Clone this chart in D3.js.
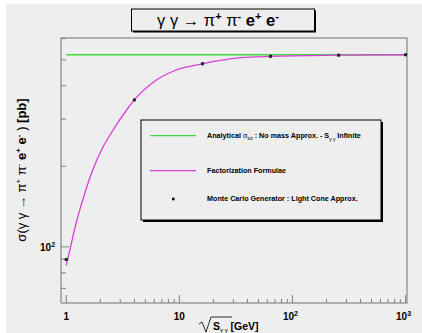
<!DOCTYPE html>
<html><head><meta charset="utf-8">
<script src="https://cdn.jsdelivr.net/npm/d3@7"></script>
<style>
html,body{margin:0;padding:0;background:#fff;}
svg{display:block;}
text{font-family:"Liberation Sans",Arial,sans-serif;}
</style></head>
<body>
<script>
// ---- data ----
const curveX = [1, 1.085, 1.2, 1.42, 1.74, 2.07, 2.62, 3.44, 4, 5.92, 8.9, 16, 23.1, 34.7, 64, 256, 1000];
const curveY = [85.3, 99, 119, 153, 197, 232, 275, 326, 354, 413, 454, 483, 497, 509, 515, 520, 522];
const mcX = [1, 4, 16, 64, 256, 1000];
const mcY = [89.7, 354, 483, 515, 520, 522];
const analyticX = [1, 1000];
const analyticY = [522, 522];
const xTickVals = [1, 10, 100, 1000];
const xTickLabels = ["1", "10", "10", "10"];
const xTickExps = ["", "", "2", "3"];
const yTickVals = [100];
const legendLabels = ["Analytical", "Factorization Formulae", "Monte Carlo Generator : Light Cone Approx."];

const W = 422, H = 333;
const svg = d3.select("body").append("svg").attr("width", W).attr("height", H);
svg.append("rect").attr("x", 6).attr("y", 4).attr("width", W - 6).attr("height", H - 4).attr("fill", "#eeeeee");

const L = 61, R = 407, T = 38, B = 303;
const x = d3.scaleLog().domain([0.898, 1030]).range([L, R]);
const y = d3.scaleLog().domain([61.7, 603]).range([B, T]);

const green = "#3fd83f", magenta = "#d83fd8";

// frame
svg.append("rect").attr("x", L).attr("y", T).attr("width", R - L).attr("height", B - T)
  .attr("fill", "none").attr("stroke", "#707070").attr("stroke-width", 1);
svg.append("line").attr("x1", L).attr("x2", L).attr("y1", T).attr("y2", B)
  .attr("stroke", "#b0b0b0").attr("stroke-width", 2);

// x ticks
const xMinor = [];
for (let d = 1; d <= 100; d *= 10) for (let k = 2; k <= 9; k++) xMinor.push(d * k);
svg.append("g").selectAll("line").data(xMinor).join("line")
  .attr("x1", d => x(d)).attr("x2", d => x(d)).attr("y1", B).attr("y2", B - 4)
  .attr("stroke", "#808080");
svg.append("g").selectAll("line").data(xTickVals).join("line")
  .attr("x1", d => x(d)).attr("x2", d => x(d)).attr("y1", B).attr("y2", B - 8)
  .attr("stroke", "#808080");
const xl = svg.append("g").selectAll("text").data(xTickVals).join("text")
  .attr("x", (d, i) => x(d) + (xTickExps[i] ? -2 : 0)).attr("y", 320)
  .attr("text-anchor", "middle").attr("font-size", 10).attr("font-weight", "bold");
xl.append("tspan").text((d, i) => xTickLabels[i]);
xl.append("tspan").attr("dy", -4).attr("font-size", 7).text((d, i) => xTickExps[i]);

// y ticks
const yMinor = [70, 80, 90, 200, 300, 400, 500, 600];
svg.append("g").selectAll("line").data(yMinor).join("line")
  .attr("x1", L).attr("x2", L + 5).attr("y1", d => y(d)).attr("y2", d => y(d))
  .attr("stroke", "#808080");
svg.append("g").selectAll("line").data(yTickVals).join("line")
  .attr("x1", L).attr("x2", L + 8).attr("y1", d => y(d)).attr("y2", d => y(d))
  .attr("stroke", "#808080");
const yl = svg.append("g").selectAll("text").data(yTickVals).join("text")
  .attr("x", 40).attr("y", d => y(d) + 4)
  .attr("font-size", 10).attr("font-weight", "bold");
yl.append("tspan").text("10");
yl.append("tspan").attr("dy", -4).attr("font-size", 7).text("2");

// analytical line
const line = d3.line().x(d => x(d[0])).y(d => y(d[1]));
svg.append("path").datum(analyticX.map((v, i) => [v, analyticY[i]]))
  .attr("d", line).attr("fill", "none").attr("stroke", green).attr("stroke-width", 1.3);
// factorization curve
svg.append("path").datum(curveX.map((v, i) => [v, curveY[i]]))
  .attr("d", d3.line().curve(d3.curveMonotoneX).x(d => x(d[0])).y(d => y(d[1])))
  .attr("fill", "none").attr("stroke", magenta).attr("stroke-width", 1.3);
// MC points
svg.append("g").selectAll("rect").data(mcX.map((v, i) => [v, mcY[i]])).join("rect")
  .attr("x", d => x(d[0]) - 1.5).attr("y", d => y(d[1]) - 1.5).attr("width", 3).attr("height", 3)
  .attr("fill", "#222");

// legend
const lgX = 141, lgY = 120, lgW = 240, lgH = 100;
svg.append("rect").attr("x", lgX + 2).attr("y", lgY + 2).attr("width", lgW).attr("height", lgH).attr("fill", "#000");
svg.append("rect").attr("x", lgX).attr("y", lgY).attr("width", lgW).attr("height", lgH)
  .attr("fill", "#eeeeee").attr("stroke", "#000").attr("stroke-width", 1);
const rows = [135.7, 170.7, 199];
svg.append("line").attr("x1", 150).attr("x2", 196).attr("y1", rows[0]).attr("y2", rows[0]).attr("stroke", green).attr("stroke-width", 1.3);
svg.append("line").attr("x1", 150).attr("x2", 196).attr("y1", rows[1]).attr("y2", rows[1]).attr("stroke", magenta).attr("stroke-width", 1.3);
svg.append("rect").attr("x", 172).attr("y", rows[2] - 1.3).attr("width", 2.6).attr("height", 2.6).attr("fill", "#000");
const fs = 7.2;
const lt0 = svg.append("text").attr("x", 207).attr("y", rows[0] + 2.4).attr("font-size", fs).attr("font-weight", "bold");
lt0.append("tspan").text(legendLabels[0] + " ");
lt0.append("tspan").attr("font-weight", "normal").text("σ");
lt0.append("tspan").attr("dy", 1.5).attr("font-size", 4.8).attr("font-weight", "normal").text("tot");
lt0.append("tspan").attr("dy", -1.5).text(" : No mass Approx. -  S");
lt0.append("tspan").attr("dy", 2.5).attr("font-size", 4.8).attr("font-weight", "normal").text("γ γ");
lt0.append("tspan").attr("dy", -2.5).text("  Infinite");
svg.append("text").attr("x", 207).attr("y", rows[1] + 2.4).attr("font-size", fs).attr("font-weight", "bold").text(legendLabels[1]);
svg.append("text").attr("x", 207).attr("y", rows[2] + 2.4).attr("font-size", fs).attr("font-weight", "bold").text(legendLabels[2]);

// title box
svg.append("rect").attr("x", 133).attr("y", 10.5).attr("width", 183).attr("height", 22).attr("fill", "#000");
svg.append("rect").attr("x", 131.5).attr("y", 9).attr("width", 183).attr("height", 22)
  .attr("fill", "#eeeeee").attr("stroke", "#000").attr("stroke-width", 1);
const tt = svg.append("text").attr("x", 218).attr("y", 26).attr("text-anchor", "middle").attr("font-size", 16.5);
tt.append("tspan").text("γ γ → π");
tt.append("tspan").attr("dy", -6).attr("font-size", 11).attr("font-weight", "bold").text("+");
tt.append("tspan").attr("dy", 6).text("  π");
tt.append("tspan").attr("dy", -6).attr("font-size", 11).attr("font-weight", "bold").text("-");
tt.append("tspan").attr("dy", 6).attr("font-weight", "bold").text(" e");
tt.append("tspan").attr("dy", -6).attr("font-size", 11).attr("font-weight", "bold").text("+");
tt.append("tspan").attr("dy", 6).attr("font-weight", "bold").text("  e");
tt.append("tspan").attr("dy", -6).attr("font-size", 11).attr("font-weight", "bold").text("-");

// y axis title
const yt = svg.append("text").attr("transform", "translate(26,170) rotate(-90)")
  .attr("text-anchor", "middle").attr("font-size", 13);
yt.append("tspan").text("σ(γ γ → π");
yt.append("tspan").attr("dy", -5).attr("font-size", 8).text("+");
yt.append("tspan").attr("dy", 5).text(" π");
yt.append("tspan").attr("dy", -5).attr("font-size", 8).text("-");
yt.append("tspan").attr("dy", 5).attr("font-weight", "bold").text(" e");
yt.append("tspan").attr("dy", -5).attr("font-size", 8).attr("font-weight", "bold").text("+");
yt.append("tspan").attr("dy", 5).attr("font-weight", "bold").text(" e");
yt.append("tspan").attr("dy", -5).attr("font-size", 8).attr("font-weight", "bold").text("-");
yt.append("tspan").attr("dy", 5).text(" )  ");
yt.append("tspan").attr("font-weight", "bold").text("[pb]");

// x axis title
svg.append("path").attr("d", "M199,324 L202,322 L206,332 L211,317 L232,317")
  .attr("fill", "none").attr("stroke", "#000").attr("stroke-width", 0.8);
const xt = svg.append("text").attr("x", 213).attr("y", 330).attr("font-size", 10.5).attr("font-weight", "bold");
xt.append("tspan").text("S");
xt.append("tspan").attr("dy", 2).attr("font-size", 6).attr("font-weight", "normal").text("γ γ");
xt.append("tspan").attr("dy", -2).text(" [GeV]");
</script>
</body></html>
